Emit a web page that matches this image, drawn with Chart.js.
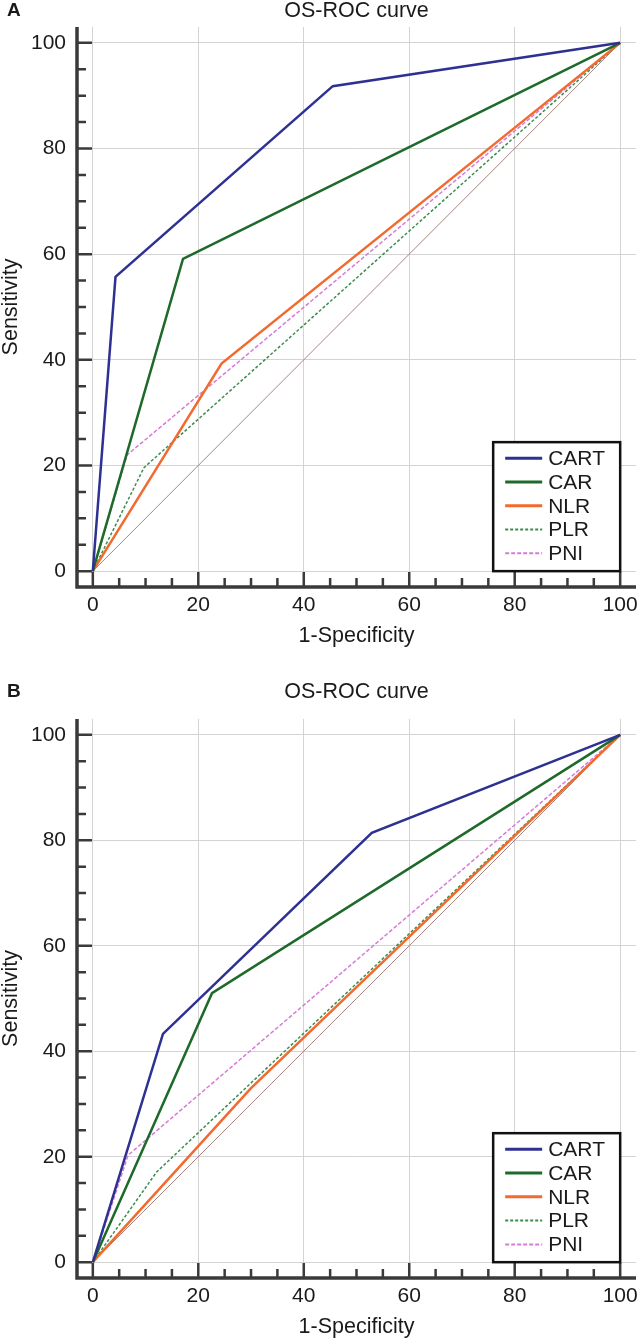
<!DOCTYPE html>
<html>
<head>
<meta charset="utf-8">
<title>OS-ROC curve</title>
<script src="https://cdn.jsdelivr.net/npm/chart.js@4.4.1/dist/chart.umd.min.js"></script>
<style>
    body { margin: 0; background: #fff; }
    canvas { display: block; }
</style>
</head>
<body>
<canvas id="rocA" width="640" height="669"></canvas>
<canvas id="rocB" width="640" height="670"></canvas>
<script>
const seriesNames = ['CART', 'CAR', 'NLR', 'PLR', 'PNI'];
const tickLabels = [0, 20, 40, 60, 80, 100];
const minorTicks = [0, 5, 10, 15, 20, 25, 30, 35, 40, 45, 50, 55, 60, 65, 70, 75, 80, 85, 90, 95, 100];
const diagonal = [[0, 0], [100, 100]];

// panel A, points are [1-specificity, sensitivity]
const cartA = [[0, 0], [4.3, 55.7], [45.5, 91.8], [100, 100]];
const carA = [[0, 0], [17.1, 59.1], [100, 100]];
const nlrA = [[0, 0], [24.4, 39.3], [100, 100]];
const plrA = [[0, 0], [9.7, 19.6], [100, 100]];
const pniA = [[0, 0], [6.5, 22], [100, 100]];

// panel B
const cartB = [[0, 0], [13.3, 43.3], [52.9, 81.4], [100, 100]];
const carB = [[0, 0], [22.6, 51], [100, 100]];
const nlrB = [[0, 0], [30, 33], [100, 100]];
const plrB = [[0, 0], [12.1, 17.1], [100, 100]];
const pniB = [[0, 0], [6.7, 20.3], [100, 100]];

const lineStyles = [
    { color: '#2e3192', width: 2.5, dash: [] },
    { color: '#1d6a2a', width: 2.5, dash: [] },
    { color: '#f26a2e', width: 2.5, dash: [] },
    { color: '#3c8c4c', width: 1.5, dash: [3, 2] },
    { color: '#d67bd6', width: 1.5, dash: [4, 2] }
];
const FONT = '"Liberation Sans", Arial, sans-serif';

// axes, ticks, titles and the boxed legend
const rocFrame = {
    id: 'rocFrame',
    afterDatasetsDraw(chart, args, opts) {
        const { ctx, chartArea: a, scales: { x, y } } = chart;
        ctx.save();

        ctx.strokeStyle = '#3a3a3a';
        ctx.lineWidth = 3.5;
        ctx.beginPath();
        ctx.moveTo(a.left, a.top);
        ctx.lineTo(a.left, a.bottom);
        ctx.lineTo(a.right, a.bottom);
        ctx.stroke();

        ctx.lineWidth = 2.5;
        minorTicks.forEach(v => {
            const len = v % 20 === 0 ? 15 : 9;
            const px = x.getPixelForValue(v);
            const py = y.getPixelForValue(v);
            ctx.beginPath();
            ctx.moveTo(px, a.bottom);
            ctx.lineTo(px, a.bottom - len);
            ctx.moveTo(a.left, py);
            ctx.lineTo(a.left + len, py);
            ctx.stroke();
        });

        ctx.fillStyle = '#1a1a1a';
        ctx.font = '21px ' + FONT;
        ctx.textBaseline = 'middle';
        ctx.textAlign = 'center';
        tickLabels.forEach(v => ctx.fillText(String(v), x.getPixelForValue(v), a.bottom + 18));
        ctx.textAlign = 'right';
        tickLabels.forEach(v => ctx.fillText(String(v), a.left - 11, y.getPixelForValue(v)));

        // titles
        ctx.font = '21.5px ' + FONT;
        ctx.textAlign = 'center';
        ctx.fillText('1-Specificity', (a.left + a.right) / 2, a.bottom + 49);
        ctx.fillText('OS-ROC curve', (a.left + a.right) / 2, opts.titleY);
        ctx.save();
        ctx.translate(11, (a.top + a.bottom) / 2);
        ctx.rotate(-Math.PI / 2);
        ctx.fillText('Sensitivity', 0, 0);
        ctx.restore();
        ctx.textAlign = 'left';
        ctx.font = 'bold 19px ' + FONT;
        ctx.fillText(opts.letter, 7, opts.titleY);

        // legend
        const right = x.getPixelForValue(100);
        const bottom = y.getPixelForValue(0);
        const left = right - 127;
        const top = bottom - 129;
        ctx.fillStyle = '#fff';
        ctx.fillRect(left, top, 127, 129);
        ctx.strokeStyle = '#111';
        ctx.lineWidth = 2.5;
        ctx.strokeRect(left, top, 127, 129);
        ctx.font = '21px ' + FONT;
        ctx.fillStyle = '#1a1a1a';
        seriesNames.forEach((name, i) => {
            const ds = chart.data.datasets[i];
            const ly = top + 16 + i * 23.8;
            ctx.strokeStyle = ds.borderColor;
            ctx.lineWidth = ds.borderWidth + 0.5;
            ctx.setLineDash(ds.borderDash);
            ctx.beginPath();
            ctx.moveTo(left + 12, ly);
            ctx.lineTo(left + 49, ly);
            ctx.stroke();
            ctx.setLineDash([]);
            ctx.fillText(name, left + 55, ly + 1);
        });
        ctx.restore();
    }
};

function rocChart(id, series, letter, titleY, padTop, padBottom) {
    const datasets = series.map((pts, i) => ({
        label: seriesNames[i],
        data: pts,
        borderColor: lineStyles[i].color,
        borderWidth: lineStyles[i].width,
        borderDash: lineStyles[i].dash,
        pointRadius: 0,
        tension: 0,
        fill: false
    }));
    datasets.push({
        label: 'reference',
        data: diagonal,
        borderColor: '#a8857f',
        borderWidth: 1,
        pointRadius: 0,
        fill: false
    });

    const axis = {
        type: 'linear',
        min: -3,
        max: 103,
        afterBuildTicks: scale => { scale.ticks = minorTicks.map(v => ({ value: v })); },
        ticks: { display: false },
        border: { display: false },
        grid: {
            drawTicks: false,
            lineWidth: 1,
            color: c => (c.tick && c.tick.value % 20 === 0) ? '#d3d3d3' : 'rgba(0,0,0,0)'
        }
    };

    return new Chart(document.getElementById(id), {
        type: 'line',
        data: { datasets: datasets },
        options: {
            responsive: false,
            animation: false,
            layout: { padding: { left: 77, right: 4, top: padTop, bottom: padBottom } },
            scales: { x: axis, y: Object.assign({}, axis) },
            plugins: {
                legend: { display: false },
                tooltip: { enabled: false },
                rocFrame: { letter: letter, titleY: titleY }
            }
        },
        plugins: [rocFrame]
    });
}

const chartA = rocChart('rocA', [cartA, carA, nlrA, plrA, pniA], 'A', 11, 27, 82);
const chartB = rocChart('rocB', [cartB, carB, nlrB, plrB, pniB], 'B', 23, 50, 61);
</script>
</body>
</html>
